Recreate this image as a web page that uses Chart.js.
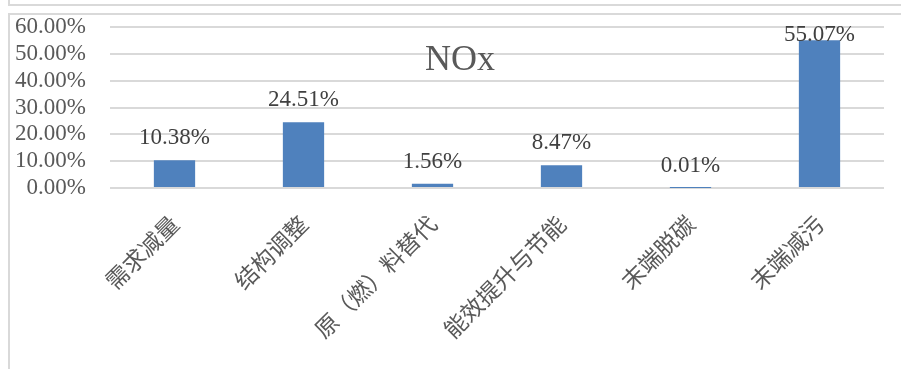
<!DOCTYPE html>
<html>
<head>
<meta charset="utf-8">
<script src="https://cdn.jsdelivr.net/npm/chart.js@4.4.1/dist/chart.umd.min.js"></script>
<style>
  html, body { margin: 0; padding: 0; background: #fff; overflow: hidden; }
  #wrap { position: relative; width: 901px; height: 369px; }
  .frame { position: absolute; border: 2px solid #d9d9d9; box-sizing: border-box; }
  #f1 { left: 8px; top: -20px; width: 920px; height: 26px; }
  #f2 { left: 8px; top: 13px; width: 920px; height: 400px; }
  #chart { position: absolute; left: 0; top: 0; }
</style>
</head>
<body>
<div id="wrap">
  <div class="frame" id="f1"></div>
  <div class="frame" id="f2"></div>
  <canvas id="chart" width="901" height="369"></canvas>
</div>
<script>
// NOx reduction contribution by measure (%)
const title = 'NOx';
const measures = ['需求减量', '结构调整', '原（燃）料替代', '能效提升与节能', '末端脱碳', '末端减污'];
const shares = [10.38, 24.51, 1.56, 8.47, 0.01, 55.07];
const yTicks = [0, 10, 20, 30, 40, 50, 60];

const serif = '"Liberation Serif", "Times New Roman", serif';
const cjk = '"Noto Sans CJK SC", sans-serif';

// value labels above bars + overlaid title
const valueLabels = {
  id: 'valueLabels',
  afterDatasetsDraw(chart) {
    const ctx = chart.ctx, area = chart.chartArea;
    const meta = chart.getDatasetMeta(0);
    ctx.save();
    ctx.font = '23px ' + serif;
    ctx.fillStyle = '#404040';
    ctx.textAlign = 'center';
    ctx.textBaseline = 'alphabetic';
    meta.data.forEach((bar, i) => {
      // keep label inside the plot area when the bar is near the top
      const y = Math.max(bar.y - 16, area.top + 14);
      ctx.fillText(shares[i].toFixed(2) + '%', bar.x, y);
    });
    ctx.font = '36px ' + serif;
    ctx.fillStyle = '#595959';
    ctx.fillText(title, 460, 70);
    ctx.restore();
  }
};

new Chart(document.getElementById('chart'), {
  type: 'bar',
  data: {
    labels: measures,
    datasets: [{
      data: shares,
      backgroundColor: '#4f81bd',
      borderWidth: 0,
      categoryPercentage: 1,
      barPercentage: 0.32
    }]
  },
  options: {
    responsive: false,
    animation: false,
    layout: { padding: { left: 0, right: 17, top: 27, bottom: 0 } },
    plugins: { legend: { display: false }, tooltip: { enabled: false } },
    scales: {
      x: {
        grid: { display: false },
        border: { display: false },
        afterFit(s) { s.height = 181; },
        ticks: {
          autoSkip: false,
          minRotation: 45,
          maxRotation: 45,
          padding: 14,
          color: '#595959',
          font: { family: cjk, size: 23 }
        }
      },
      y: {
        min: yTicks[0],
        max: yTicks[yTicks.length - 1],
        afterFit(s) {
          s.width = 110;
          s.paddingTop = 0;
          s.paddingBottom = 0;
        },
        afterBuildTicks(s) { s.ticks = yTicks.map(v => ({ value: v })); },
        grid: { color: '#d9d9d9', lineWidth: 2, drawTicks: false },
        border: { display: false },
        ticks: {
          autoSkip: false,
          padding: 24,
          color: '#595959',
          font: { family: serif, size: 23 },
          callback: v => v.toFixed(2) + '%'
        }
      }
    }
  },
  plugins: [valueLabels]
});
</script>
</body>
</html>
